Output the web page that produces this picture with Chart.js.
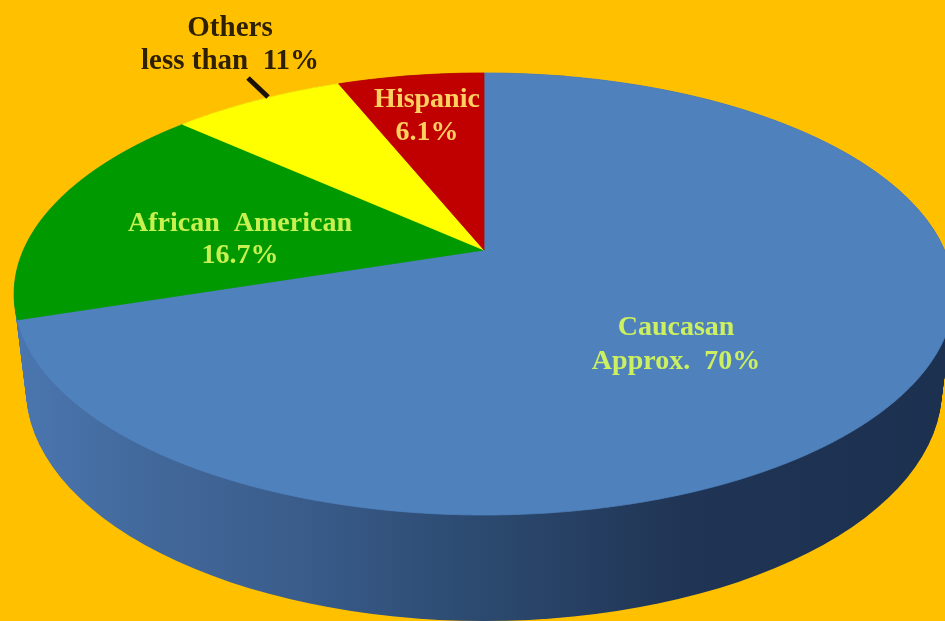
<!DOCTYPE html>
<html>
<head>
<meta charset="utf-8">
<script src="https://cdn.jsdelivr.net/npm/chart.js@4"></script>
<style>
    html, body { margin: 0; padding: 0; background: #FFC000; overflow: hidden; }
    canvas { display: block; }
</style>
</head>
<body>
<canvas id="ethnicPie" width="945" height="621"></canvas>
<script>
// Clockwise from twelve o'clock
const categories = ['Caucasan', 'African American', 'Others', 'Hispanic'];
const shares = [70, 16.7, 7.2, 6.1];
const sliceColors = ['#4F81BD', '#009A00', '#FFFF00', '#C00000'];

// Tilt of the pie top, relative to the radius Chart.js lays out
const TILT = { sx: 1.842, sy: 0.849, persp: -0.199 };

// Maps a point on the flat pie to the tilted top face
function project(arc, angle, r) {
    const u = Math.cos(angle) * r;
    const v = Math.sin(angle) * r;
    const w = 1 + TILT.persp * v;
    return {
        x: arc.x + arc.outerRadius * TILT.sx * u / w,
        y: arc.y + arc.outerRadius * TILT.sy * v / w
    };
}

function traceSlice(ctx, arc) {
    const apex = project(arc, 0, 0);
    const steps = Math.ceil((arc.endAngle - arc.startAngle) / 0.01);
    ctx.beginPath();
    ctx.moveTo(apex.x, apex.y);
    for (let i = 0; i <= steps; i++) {
        const a = arc.startAngle + (arc.endAngle - arc.startAngle) * i / steps;
        const p = project(arc, a, 1);
        ctx.lineTo(p.x, p.y);
    }
    ctx.closePath();
}

// Side wall: stack of ellipses running from the rim down to the base
function drawWall(ctx, arc) {
    const rim = { x: arc.x, y: arc.y + 44, rx: 470, ry: 221 };
    const base = { x: arc.x, y: arc.y + 139, rx: 458, ry: 232 };
    const shade = ctx.createLinearGradient(15, 0, 940, 0);
    shade.addColorStop(0, '#4A76B0');
    shade.addColorStop(0.15, '#42689A');
    shade.addColorStop(0.3, '#3A5D8C');
    shade.addColorStop(0.5, '#2C4A70');
    shade.addColorStop(0.72, '#203555');
    shade.addColorStop(1, '#1C3050');
    ctx.fillStyle = shade;
    const layers = 60;
    for (let i = 0; i <= layers; i++) {
        const t = i / layers;
        ctx.beginPath();
        ctx.ellipse(
            base.x + (rim.x - base.x) * t,
            base.y + (rim.y - base.y) * t,
            base.rx + (rim.rx - base.rx) * t,
            base.ry + (rim.ry - base.ry) * t,
            0, 0, Math.PI * 2
        );
        ctx.fill();
    }
}

const tiltedPie = {
    id: 'tiltedPie',
    // Replaces the flat arcs with the tilted ones
    beforeDatasetsDraw(chart) {
        const ctx = chart.ctx;
        const arcs = chart.getDatasetMeta(0).data.map(el =>
            el.getProps(['x', 'y', 'startAngle', 'endAngle', 'outerRadius'], true));
        ctx.save();
        drawWall(ctx, arcs[0]);
        arcs.forEach((arc, i) => {
            traceSlice(ctx, arc);
            ctx.fillStyle = sliceColors[i];
            ctx.strokeStyle = sliceColors[i];
            ctx.lineWidth = 0.8;
            ctx.fill();
            ctx.stroke();
        });
        ctx.restore();
        return false;
    },
    afterDraw(chart, args, opts) {
        const ctx = chart.ctx;
        ctx.save();
        // short pointer from the Others note to its slice
        ctx.strokeStyle = '#1A1208';
        ctx.lineWidth = 5;
        ctx.beginPath();
        ctx.moveTo(opts.pointer[0], opts.pointer[1]);
        ctx.lineTo(opts.pointer[2], opts.pointer[3]);
        ctx.stroke();

        ctx.textAlign = 'center';
        ctx.textBaseline = 'middle';
        opts.notes.forEach(note => {
            ctx.font = 'bold ' + note.size + 'px "Liberation Serif"';
            ctx.fillStyle = note.color;
            note.lines.forEach((line, i) => {
                ctx.fillText(line, note.x, note.y + i * note.leading);
            });
        });
        ctx.restore();
    }
};

new Chart(document.getElementById('ethnicPie'), {
    type: 'pie',
    data: {
        labels: categories,
        datasets: [{
            data: shares,
            backgroundColor: sliceColors,
            borderWidth: 0
        }]
    },
    options: {
        responsive: false,
        animation: false,
        layout: { padding: { left: 23, bottom: 121 } },
        plugins: {
            legend: { display: false },
            tooltip: { enabled: false },
            tiltedPie: {
                pointer: [248, 78, 268, 97],
                notes: [
                    { lines: ['Others', 'less than  11%'], x: 230, y: 29, leading: 33, size: 29, color: '#2E2000' },
                    { lines: ['Hispanic', '6.1%'], x: 427, y: 100, leading: 33, size: 28, color: '#FFD060' },
                    { lines: ['African  American', '16.7%'], x: 240, y: 224, leading: 32, size: 28, color: '#C8F050' },
                    { lines: ['Caucasan', 'Approx.  70%'], x: 676, y: 328, leading: 34, size: 28, color: '#CCF060' }
                ]
            }
        }
    },
    plugins: [tiltedPie]
});
</script>
</body>
</html>
